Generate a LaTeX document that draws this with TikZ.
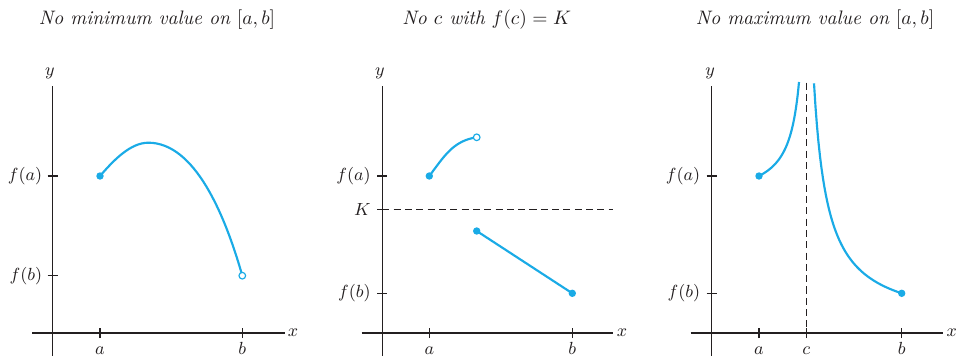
\documentclass[tikz,border=0pt]{standalone}
\usetikzlibrary{positioning}
\definecolor{Ink}{HTML}{231F20}
\definecolor{Curve}{HTML}{1AABE6}
\tikzset{
  axis/.style={Ink,line width=0.6pt},
  guide/.style={Ink,line width=0.55pt,dash pattern=on 3.6pt off 2.2pt},
  graph/.style={Curve,line width=1.1pt},
  title/.style={font=\normalsize,text=Ink},
  lbl/.style={font=\small,text=Ink,inner sep=1pt},
  dotfull/.style={circle,fill=Curve,inner sep=0pt,minimum size=3.8pt},
  dotopen/.style={circle,draw=Curve,fill=white,line width=0.6pt,inner sep=0pt,minimum size=3.4pt},
}
\begin{document}
\begin{tikzpicture}[x=0.018cm,y=0.018cm]
\useasboundingbox (0,0) rectangle (967,355);
% left panel: no minimum
\node[title] (title1) at (157,335) {\textit{No minimum value on} $[a,b]$};
\draw[axis] (52.5,269) -- (52.5,-5);
\draw[axis] (32,22) -- (285,22);
\node[lbl] (x1) at (293,22) {$x$};
\node[lbl] (y1) at (50,282) {$y$};
\foreach \xx/\nm in {100/a,242.3/b} {
  \draw[axis] (\xx,17) -- (\xx,27);
  \node[lbl,anchor=base] (\nm1) at (\xx,1) {$\nm$};
}
\foreach \yy/\txt/\nm in {179/f(a)/fa1,79.3/f(b)/fb1} {
  \draw[axis] (47.5,\yy) -- (57.5,\yy);
  \node[lbl,anchor=east] (\nm) at (44.5,\yy) {$\txt$};
}
\coordinate (s1) at (100,179);
\coordinate (top1) at (148.3,212.3);
\coordinate (e1) at (242.3,79.3);
\draw[graph] (s1) .. controls (113,194) and (130,212.3) .. (top1)
  .. controls (195,212.3) and (225,140) .. (e1);
\node[dotfull] (pa1) at (s1) {};
\node[dotopen] (pb1) at (e1) {};
% middle panel: jump over K
\node[title] (title2) at (486.7,335) {\textit{No $c$ with $f(c)=K$}};
\draw[axis] (382.3,269) -- (382.3,-5);
\draw[axis] (361.7,22) -- (613,22);
\node[lbl] (x2) at (622,22) {$x$};
\node[lbl] (y2) at (380,282) {$y$};
\foreach \xx/\nm in {429.3/a,572.3/b} {
  \draw[axis] (\xx,17) -- (\xx,27);
  \node[lbl,anchor=base] (\nm2) at (\xx,1) {$\nm$};
}
\foreach \yy/\txt/\nm in {179/f(a)/fa2,145.7/K/k2,61.7/f(b)/fb2} {
  \draw[axis] (377.3,\yy) -- (387.3,\yy);
  \node[lbl,anchor=east] (\nm) at (373,\yy) {$\txt$};
}
\draw[guide] (382.3,145.7) -- (613,145.7);
\coordinate (s2) at (429.3,179);
\coordinate (m2) at (476.7,217.7);
\coordinate (n2) at (476.7,124);
\coordinate (e2) at (572.3,61.7);
\draw[graph] (s2) to[out=53,in=188] (m2);
\draw[graph] (n2) -- (e2);
\node[dotfull] (pa2) at (s2) {};
\node[dotopen] (pm2) at (m2) {};
\node[dotfull] (pn2) at (n2) {};
\node[dotfull] (pb2) at (e2) {};
% right panel: no maximum
\node[title] (title3) at (815,335) {\textit{No maximum value on} $[a,b]$};
\draw[axis] (711.7,269) -- (711.7,-5);
\draw[axis] (690.7,22) -- (943.3,22);
\node[lbl] (x3) at (951.7,22) {$x$};
\node[lbl] (y3) at (710,282) {$y$};
\foreach \xx/\nm in {759/a,806.3/c,901.7/b} {
  \draw[axis] (\xx,17) -- (\xx,27);
  \node[lbl,anchor=base] (\nm3) at (\xx,1) {$\nm$};
}
\foreach \yy/\txt/\nm in {179/f(a)/fa3,61.7/f(b)/fb3} {
  \draw[axis] (706.7,\yy) -- (716.7,\yy);
  \node[lbl,anchor=east] (\nm) at (702.5,\yy) {$\txt$};
}
\draw[guide] (806.3,272.3) -- (806.3,22);
\draw[graph] plot[domain=759:799,samples=60] (\x,{153.2+1318/(810-\x)});
\draw[graph] plot[domain=814:901.7,samples=60] (\x,{28.2+3409/(\x-800)});
\node[dotfull] (pa3) at (759,179) {};
\node[dotfull] (pb3) at (901.7,61.7) {};
\end{tikzpicture}
\end{document}
